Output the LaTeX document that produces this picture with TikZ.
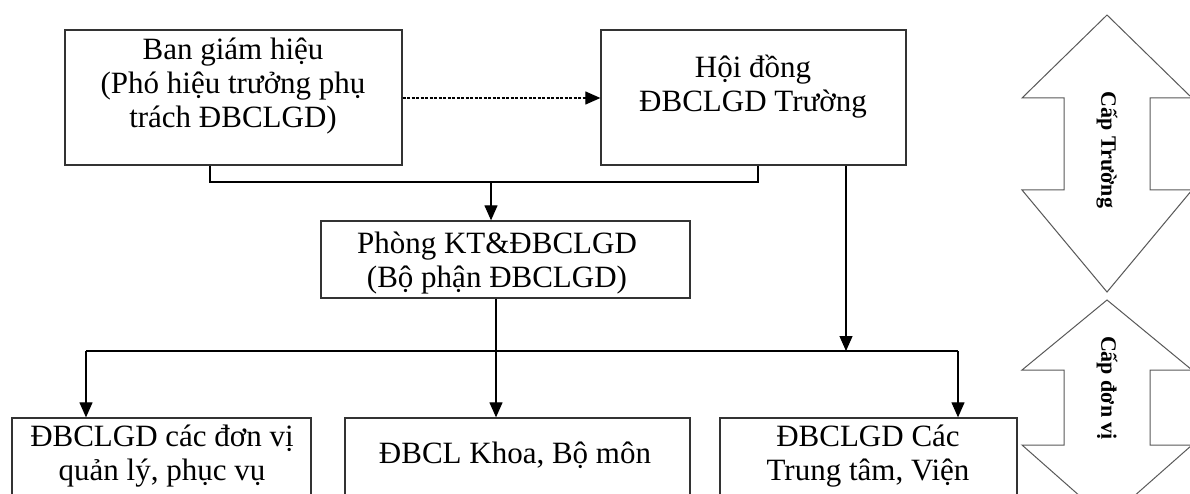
\documentclass[tikz,border=0pt]{standalone}
\usepackage{fontspec}
\setmainfont{Liberation Serif}
\usetikzlibrary{arrows.meta,fit}

\tikzset{
  box/.style={draw=black!80, line width=1.3pt, inner sep=0pt, fill=none},
  txt/.style={align=center, font=\fontsize{31}{34}\selectfont, inner sep=0pt},
  link/.style={draw=black, line width=1.2pt},
  arrowlink/.style={link, -{Triangle[length=15pt,width=13pt]}},
  dashlink/.style={draw=black, line width=1.2pt, dash pattern=on 3pt off 1.5pt, -{Triangle[length=15pt,width=13pt]}},
  bigarrow/.style={draw=black!65, line width=1pt, fill=white, line join=miter},
  arrowtxt/.style={font=\fontsize{22}{26}\selectfont\bfseries, rotate=-90, inner sep=0pt}
}

\begin{document}
\begin{tikzpicture}[x=1pt,y=-1pt]
  \useasboundingbox (0,0) rectangle (1190,494);
  \clip (0,0) rectangle (1190,494);

  % --- boxes ---
  \node[box, fit={(65,30) (402,165)}] (bgh) {};
  \node[box, fit={(601,30) (906,165)}] (hd) {};
  \node[box, fit={(321,221) (690,298)}] (phong) {};
  \node[box, fit={(12,418) (311,540)}] (dvql) {};
  \node[box, fit={(345,418) (690,540)}] (khoa) {};
  \node[box, fit={(720,418) (1017,540)}] (ttv) {};

  % --- box texts ---
  \node[txt] (tbgh) at (233,86) {Ban giám hiệu\\(Phó hiệu trưởng phụ\\trách ĐBCLGD)};
  \node[txt] (thd) at (753,87) {Hội đồng\\ĐBCLGD Trường};
  \node[txt] (tphong) at (497,263) {Phòng KT\&ĐBCLGD\\(Bộ phận ĐBCLGD)};
  \node[txt] (tdvql) at (162,456) {ĐBCLGD các đơn vị\\quản lý, phục vụ};
  \node[txt] (tkhoa) at (515,455) {ĐBCL Khoa, Bộ môn};
  \node[txt] (tttv) at (868,456) {ĐBCLGD Các\\Trung tâm, Viện};

  % --- junction points ---
  \coordinate (jtop) at (491,182);
  \coordinate (jl) at (86,351);
  \coordinate (jr) at (958,351);
  \coordinate (jm) at (496,351);
  \coordinate (jhd) at (846,351);

  % --- connectors ---
  \draw[dashlink] (bgh.east |- 0,98) -- (hd.west |- 0,98);
  \draw[link] (bgh.south -| 210,0) |- (jtop) -| (hd.south -| 758,0);
  \draw[arrowlink] (jtop) -- (jtop |- phong.north);
  \draw[link] (phong.south -| jm) -- (jm);
  \draw[arrowlink] (jm) -- (jm |- khoa.north);
  \draw[link] (jl) -- (jr);
  \draw[arrowlink] (jl) -- (jl |- dvql.north);
  \draw[arrowlink] (jr) -- (jr |- ttv.north);
  \draw[arrowlink] (hd.south -| jhd) -- (jhd);

  % --- level arrows ---
  \draw[bigarrow] (1107,15) -- (1192,98) -- (1150,98) -- (1150,190)
    -- (1192,190) -- (1107,292) -- (1022,190) -- (1064,190) -- (1064,98)
    -- (1022,98) -- cycle;
  \node[arrowtxt] (captruong) at (1107,150) {Cấp Trường};

  \draw[bigarrow] (1107,300) -- (1192,370) -- (1150,370) -- (1150,445)
    -- (1192,445) -- (1107,520) -- (1022,445) -- (1064,445) -- (1064,370)
    -- (1022,370) -- cycle;
  \node[arrowtxt] (capdonvi) at (1107,388) {Cấp đơn vị};
\end{tikzpicture}
\end{document}
